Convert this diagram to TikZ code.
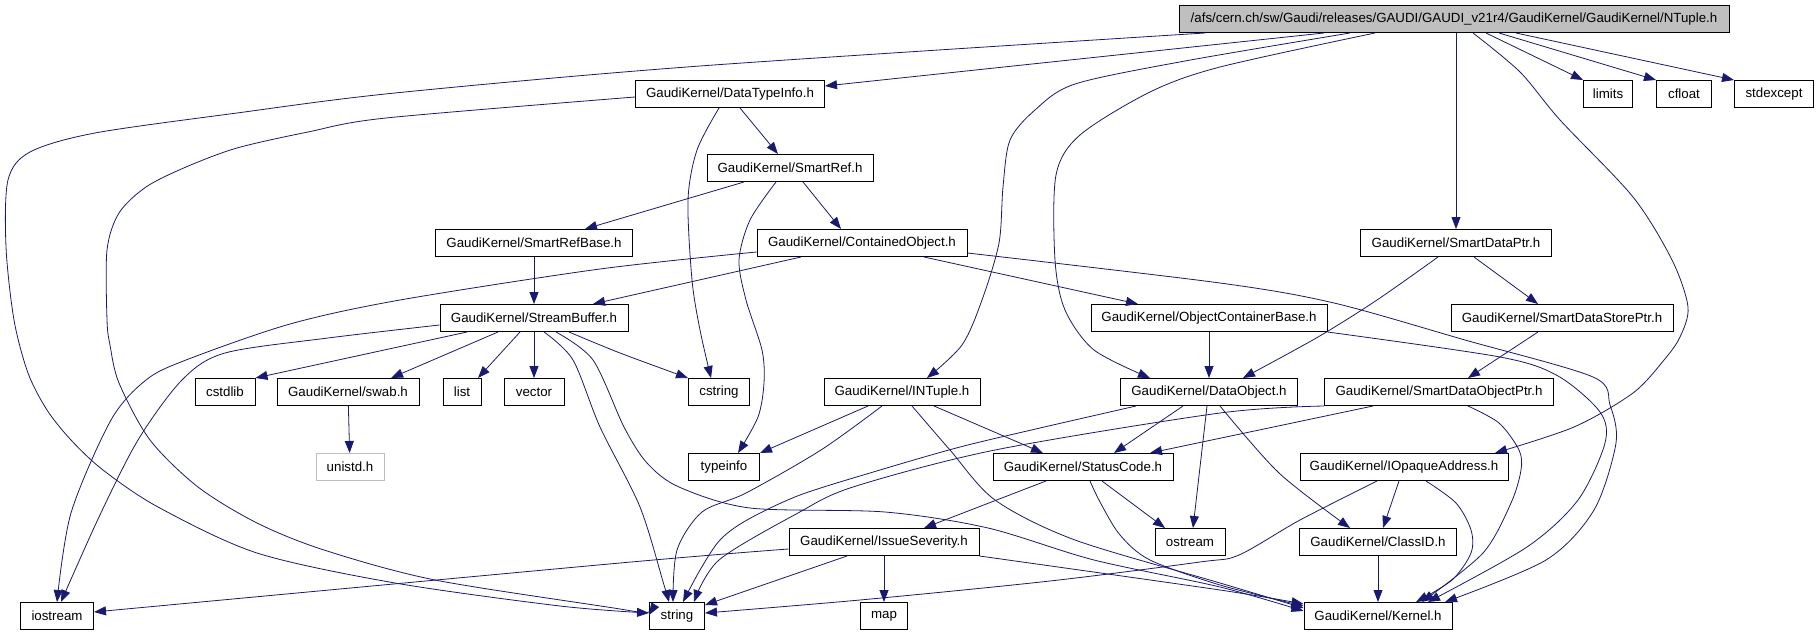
\documentclass[tikz,border=0pt]{standalone}
\usepackage{fontspec}
\setmainfont{Liberation Sans}
\usetikzlibrary{arrows.meta}
\definecolor{edgeblue}{HTML}{191970}
\definecolor{nodocgrey}{HTML}{BFBFBF}

\begin{document}
\begin{tikzpicture}[
  x=1pt, y=-1pt,
  font=\fontsize{13.3pt}{15pt}\selectfont,
  hfile/.style={draw=black, line width=1pt, inner sep=0pt, minimum height=27pt},
  rootfile/.style={hfile, fill=nodocgrey},
  nodoc/.style={hfile, draw=nodocgrey},
  inc/.style={-{Triangle[length=12pt,width=9pt]}, draw=edgeblue, line width=0.8pt}
]
\useasboundingbox (0,0) rectangle (1817,634);

% --- files, one row per rank ---
\node[rootfile, minimum width=550pt] (root) at (1454,19) {/afs/cern.ch/sw/Gaudi/releases/GAUDI/GAUDI\_v21r4/GaudiKernel/GaudiKernel/NTuple.h};

\node[hfile, minimum width=189pt] (dti) at (730,94) {GaudiKernel/DataTypeInfo.h};
\node[hfile, minimum width=49pt] (limits) at (1608,94) {limits};
\node[hfile, minimum width=55pt] (cfloat) at (1684,94) {cfloat};
\node[hfile, minimum width=79pt] (stdexc) at (1774,94) {stdexcept};

\node[hfile, minimum width=166pt] (sref) at (790,168) {GaudiKernel/SmartRef.h};

\node[hfile, minimum width=197pt] (srbase) at (534,243) {GaudiKernel/SmartRefBase.h};
\node[hfile, minimum width=210pt] (cobj) at (862,243) {GaudiKernel/ContainedObject.h};
\node[hfile, minimum width=191pt] (sdptr) at (1456,243) {GaudiKernel/SmartDataPtr.h};

\node[hfile, minimum width=188pt] (sbuf) at (534,318) {GaudiKernel/StreamBuffer.h};
\node[hfile, minimum width=236pt] (ocbase) at (1209,318) {GaudiKernel/ObjectContainerBase.h};
\node[hfile, minimum width=222pt] (sdstore) at (1562,318) {GaudiKernel/SmartDataStorePtr.h};

\node[hfile, minimum width=60pt] (cstdlib) at (225,392) {cstdlib};
\node[hfile, minimum width=142pt] (swab) at (348,392) {GaudiKernel/swab.h};
\node[hfile, minimum width=38pt] (list) at (462,392) {list};
\node[hfile, minimum width=60pt] (vector) at (534,392) {vector};
\node[hfile, minimum width=61pt] (cstring) at (719,392) {cstring};
\node[hfile, minimum width=156pt] (intuple) at (902,392) {GaudiKernel/INTuple.h};
\node[hfile, minimum width=177pt] (dobj) at (1209,392) {GaudiKernel/DataObject.h};
\node[hfile, minimum width=229pt] (sdobj) at (1439,392) {GaudiKernel/SmartDataObjectPtr.h};

\node[nodoc, minimum width=68pt] (unistd) at (350,467) {unistd.h};
\node[hfile, minimum width=71pt] (typeinfo) at (724,467) {typeinfo};
\node[hfile, minimum width=180pt] (scode) at (1083,467) {GaudiKernel/StatusCode.h};
\node[hfile, minimum width=208pt] (iopaque) at (1404,467) {GaudiKernel/IOpaqueAddress.h};

\node[hfile, minimum width=190pt] (isev) at (884,542) {GaudiKernel/IssueSeverity.h};
\node[hfile, minimum width=70pt] (ostream) at (1190,542) {ostream};
\node[hfile, minimum width=157pt] (classid) at (1378,542) {GaudiKernel/ClassID.h};

\node[hfile, minimum width=73pt] (iostream) at (57,616) {iostream};
\node[hfile, minimum width=55pt] (string) at (677,616) {string};
\node[hfile, minimum width=47pt] (map) at (884,616) {map};
\node[hfile, minimum width=148pt] (kernel) at (1378,616) {GaudiKernel/Kernel.h};

% --- includes of NTuple.h ---
\draw[inc] plot[smooth] coordinates {([xshift=-249pt]root.south) (700,66) (395,93) (237,113) (95,133) (30,152) (8,180) (6,247) (14,320) (28,373) (47,410) (71,440) (103,470) (158,507) (257,553) (395,583) (560,606) ([yshift=3pt]string.west)};
\draw[inc] ([xshift=-130pt]root.south) -- ([yshift=8pt]dti.east);
\draw[inc] plot[smooth] coordinates {([xshift=-104pt]root.south) (1185,61) (1075,84) (1035,110) (1010,140) (1003,187) (999,243) (982,300) (962,345) ([xshift=25pt]intuple.north)};
\draw[inc] plot[smooth] coordinates {([xshift=-79pt]root.south) (1220,67) (1150,92) (1080,135) (1056,175) (1055,260) (1065,310) (1094,350) ([xshift=-59pt]dobj.north)};
\draw[inc] (sdptr.north |- root.south) -- (sdptr.north);
\draw[inc] plot[smooth] coordinates {([xshift=19pt]root.south) (1520,72) (1560,120) (1633,197) (1672,260) (1688,307) (1680,337) (1664,360) (1633,393) (1574,427) ([xshift=91pt]iopaque.north)};
\draw[inc] ([xshift=32pt]root.south) -- (limits.north west);
\draw[inc] ([xshift=45pt]root.south) -- (cfloat.north west);
\draw[inc] ([xshift=62pt]root.south) -- (stdexc.north west);

% --- DataTypeInfo.h and SmartRef.h ---
\draw[inc] plot[smooth] coordinates {([yshift=-3pt]dti.west) (386,118) (308,132) (237,148) (186,167) (146,187) (119,213) (107,250) (107,320) (110,345) (119,383) (150,440) (198,487) (257,523) (324,550) (435,580) (620,609) ([yshift=1pt]string.west)};
\draw[inc] ([xshift=10pt]dti.south) -- ([xshift=-12pt]sref.north);
\draw[inc] plot[smooth] coordinates {([xshift=-11pt]dti.south) (697,150) (688,200) (692,280) (700,330) ([xshift=-8pt]cstring.north)};
\draw[inc] ([xshift=-46pt]sref.south) -- ([xshift=51pt]srbase.north);
\draw[inc] ([xshift=13pt]sref.south) -- ([xshift=-21pt]cobj.north);
\draw[inc] plot[smooth] coordinates {([xshift=-14pt]sref.south) (750,220) (739,260) (746,300) (762,350) (764,383) (758,417) ([xshift=14pt]typeinfo.north)};
\draw[inc] (srbase) -- (sbuf);

% --- ContainedObject.h, ObjectContainerBase.h, smart pointers ---
\draw[inc] plot[smooth] coordinates {([yshift=-9pt]cobj.west) (600,269) (400,300) (290,324) (186,360) (146,380) (111,420) (71,513) (iostream.north)};
\draw[inc] ([xshift=-61pt]cobj.south) -- ([xshift=59pt]sbuf.north);
\draw[inc] ([xshift=62pt]cobj.south) -- ([xshift=-71pt]ocbase.north);
\draw[inc] plot[smooth] coordinates {([yshift=-10pt]cobj.east) (1220,283) (1334,303) (1465,340) (1593,377) (1610,405) (1616,443) (1594,510) (1546,560) ([xshift=67pt]kernel.north)};
\draw[inc] (ocbase) -- (dobj);
\draw[inc] plot[smooth] coordinates {(ocbase.south east) (1500,357) (1558,376) (1600,412) (1605,443) (1578,500) (1527,547) ([xshift=50pt]kernel.north)};
\draw[inc] plot[smooth] coordinates {([xshift=-18pt]sdptr.south) (1377,300) (1318,337) ([xshift=34pt]dobj.north)};
\draw[inc] ([xshift=18pt]sdptr.south) -- ([xshift=-24pt]sdstore.north);
\draw[inc] ([xshift=-24pt]sdstore.south) -- ([xshift=29pt]sdobj.north);

% --- StreamBuffer.h ---
\draw[inc] plot[smooth] coordinates {([yshift=-7pt]sbuf.west) (328,338) (225,353) (182,380) (138,440) (99,517) ([xshift=4pt]iostream.north)};
\draw[inc] ([xshift=-67pt]sbuf.south) -- (cstdlib.north east);
\draw[inc] ([xshift=-36pt]sbuf.south) -- ([xshift=43pt]swab.north);
\draw[inc] ([xshift=-14pt]sbuf.south) -- ([xshift=16pt]list.north);
\draw[inc] (sbuf) -- (vector);
\draw[inc] plot[smooth] coordinates {([xshift=35pt]sbuf.south) (620,353) (cstring.north west)};
\draw[inc] plot[smooth] coordinates {([xshift=10pt]sbuf.south) (573,360) (600,427) (640,507) (664,585) ([xshift=-8pt]string.north)};
\draw[inc] plot[smooth] coordinates {([xshift=22pt]sbuf.south) (593,360) (624,427) (647,463) (679,487) (750,508) (885,512) (988,528) (1094,560) (1220,587) ([yshift=5pt]kernel.west)};
\draw[inc] (swab) -- (unistd);

% --- INTuple.h, DataObject.h, SmartDataObjectPtr.h ---
\draw[inc] ([xshift=-34pt]intuple.south) -- (typeinfo.north east);
\draw[inc] plot[smooth] coordinates {([xshift=-20pt]intuple.south) (821,450) (746,493) (702,512) (677,550) ([xshift=-4pt]string.north)};
\draw[inc] ([xshift=32pt]intuple.south) -- ([xshift=-40pt]scode.north);
\draw[inc] plot[smooth] coordinates {([xshift=10pt]intuple.south) (950,450) (995,500) (1075,540) (1220,583) ([yshift=8pt]kernel.west)};
\draw[inc] plot[smooth] coordinates {([xshift=-73pt]dobj.south) (1040,428) (960,447) (880,470) (800,495) (747,520) (720,540) (700,570) ([xshift=6pt]string.north)};
\draw[inc] ([xshift=-26pt]dobj.south) -- ([xshift=31pt]scode.north);
\draw[inc] ([xshift=-2pt]dobj.south) -- ([xshift=3pt]ostream.north);
\draw[inc] plot[smooth] coordinates {([xshift=11pt]dobj.south) (1279,473) ([xshift=-28pt]classid.north)};
\draw[inc] plot[smooth] coordinates {(sdobj.south west) (1220,413) (995,450) (853,487) (798,513) (719,560) ([xshift=17pt]string.north)};
\draw[inc] ([xshift=-66pt]sdobj.south) -- ([xshift=67pt]scode.north);
\draw[inc] plot[smooth] coordinates {([xshift=29pt]sdobj.south) (1499,423) (1519,450) (1521,470) (1511,503) (1483,553) ([xshift=44pt]kernel.north)};

% --- StatusCode.h, IOpaqueAddress.h, IssueSeverity.h, ClassID.h ---
\draw[inc] ([xshift=-37pt]scode.south) -- ([xshift=40pt]isev.north);
\draw[inc] ([xshift=19pt]scode.south) -- ([xshift=-25pt]ostream.north);
\draw[inc] plot[smooth] coordinates {([xshift=7pt]scode.south) (1100,502) (1120,535) (1150,560) (1220,585) ([yshift=10pt]kernel.west)};
\draw[inc] plot[smooth] coordinates {([xshift=-27pt]iopaque.south) (1300,520) (1239,555) (1200,562) (1050,581) (860,600) ([yshift=3pt]string.east)};
\draw[inc] ([xshift=-5pt]iopaque.south) -- ([xshift=5pt]classid.north);
\draw[inc] plot[smooth] coordinates {([xshift=22pt]iopaque.south) (1456,503) (1471,530) (1471,553) (1452,580) ([xshift=38pt]kernel.north)};
\draw[inc] (classid) -- (kernel);
\draw[inc] plot[smooth] coordinates {([yshift=-7pt]isev.west) (620,563) ([yshift=4pt]iostream.east)};
\draw[inc] ([xshift=-37pt]isev.south) -- ([yshift=11pt]string.east);
\draw[inc] (isev) -- (map);
\draw[inc] plot[smooth] coordinates {(isev.south east) (1220,590) ([yshift=12pt]kernel.west)};
\end{tikzpicture}
\end{document}
